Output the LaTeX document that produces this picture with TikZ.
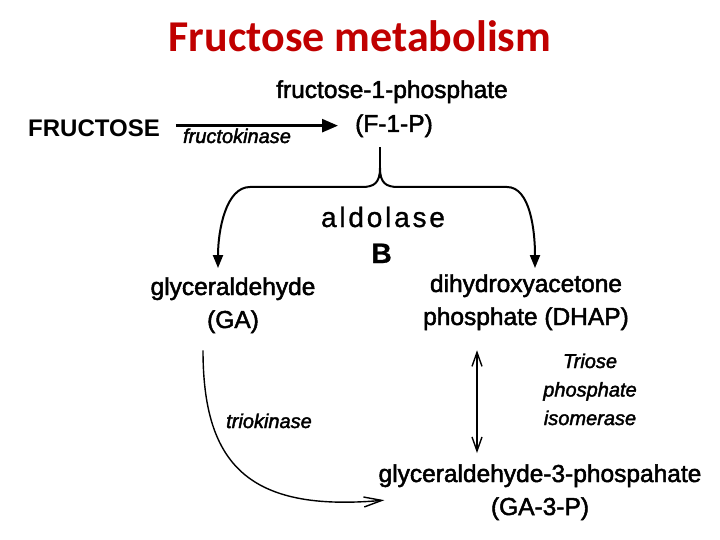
\documentclass[tikz,border=0pt]{standalone}
\usepackage{fontspec}
\setmainfont{Liberation Sans}
\newfontfamily\titlefont{Carlito}
\usetikzlibrary{arrows.meta}
\definecolor{titlered}{RGB}{192,0,0}

\begin{document}
\begin{tikzpicture}[x=1pt,y=-1pt,
    txt/.style={inner sep=3pt,anchor=base,align=center,font=\fontsize{24.5}{33}\selectfont\addfontfeature{FakeBold=2}},
    enz/.style={inner sep=3pt,anchor=base,align=center,font=\fontsize{20}{28.5}\selectfont\itshape\addfontfeature{FakeBold=2}},
    brace/.style={line width=2pt},
    armarrow/.style={brace,-{Triangle[length=13pt,width=10pt]}},
    fkarrow/.style={line width=2.6pt,-{Triangle[length=16pt,width=13pt]}},
    isoarrow/.style={line width=1.4pt,{Straight Barb[length=14pt,width=10pt]}-{Straight Barb[length=14pt,width=10pt]}},
    tkarrow/.style={line width=1.4pt,-{Straight Barb[length=18pt,width=10pt]}}]
    \path[use as bounding box] (0,0) rectangle (720,540);

    \node[anchor=base,text=titlered,font=\titlefont\bfseries\fontsize{44}{50}\selectfont] (title) at (360,52) {Fructose metabolism};

    \node[txt] (f1pname) at (392,98) {fructose-1-phosphate};
    \node[txt] (f1p) at (394,132) {(F-1-P)};
    \node[txt,font=\fontsize{24}{30}\selectfont\bfseries] (fructose) at (94,137) {FRUCTOSE};
    \node[enz] (fk) at (237,143) {fructokinase};
    \node[txt,font=\fontsize{28}{36}\selectfont\addfontfeature{LetterSpace=10,FakeBold=1}] (aldolase) at (383,263) {aldolase\\\textbf{B}};
    \node[txt] (ga) at (233,328) {glyceraldehyde\\(GA)};
    \node[txt] (dhap) at (526,325) {dihydroxyacetone\\phosphate (DHAP)};
    \node[txt] (ga3p) at (540,515) {glyceraldehyde-3-phospahate\\(GA-3-P)};
    \node[enz] (tk) at (269,428) {triokinase};
    \node[enz] (tpi) at (590,425) {Triose\\phosphate\\isomerase};

    \coordinate (fork) at (380,168);

    \draw[fkarrow,shorten <=13pt,shorten >=14pt] (fructose.east |- f1p.west) -- (f1p.west);

    \draw[brace,shorten <=7pt] (f1p.south -| fork) -- (fork);
    \draw[armarrow] (fork) .. controls (380,183) and (374,187) .. (362,187) -- (250,187)
        .. controls (226,187) and (218,230) .. ([xshift=-15pt,yshift=6pt]ga.north);
    \draw[armarrow] (fork) .. controls (380,183) and (386,187) .. (398,187) -- (507,187)
        .. controls (530,187) and (535,230) .. ([xshift=9pt,yshift=3pt]dhap.north);

    \draw[isoarrow] ([xshift=-49pt,yshift=-17pt]dhap.south) -- ([xshift=-63pt,yshift=8pt]ga3p.north);
    \draw[tkarrow] ([xshift=-30pt,yshift=-14pt]ga.south) .. controls +(0,115) and +(-135,12) .. ([xshift=9pt,yshift=-8pt]ga3p.west);
\end{tikzpicture}
\end{document}
